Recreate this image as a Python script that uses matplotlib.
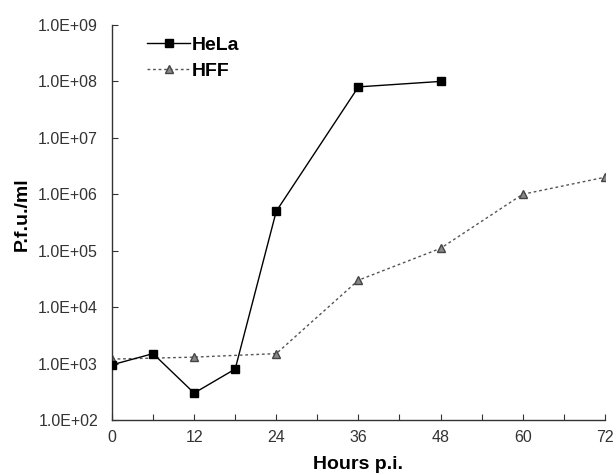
import math

import matplotlib
matplotlib.use("Agg")
import matplotlib.pyplot as plt
from matplotlib.ticker import FixedLocator, FuncFormatter, NullLocator

plt.rcParams["font.family"] = ["Liberation Sans", "DejaVu Sans"]

# Data
hela_hours = [0, 6, 12, 18, 24, 36, 48]
hela_pfu = [9.5e2, 1.5e3, 3.0e2, 8.0e2, 5.0e5, 8.0e7, 1.0e8]
hff_hours = [0, 12, 24, 36, 48, 60, 72]
hff_pfu = [1.2e3, 1.3e3, 1.5e3, 3.0e4, 1.1e5, 1.0e6, 2.0e6]

x_ticks = list(range(0, 73, 6))
x_labels = [str(h) if h % 12 == 0 else "" for h in x_ticks]
y_ticks = [10.0 ** k for k in range(2, 10)]

fig = plt.figure(figsize=(6.16, 4.75), dpi=100)
ax = fig.add_axes([0.1818, 0.1158, 0.800, 0.8316])

ax.plot(hela_hours, hela_pfu, color="black", lw=1.0, marker="s", ms=5.5,
        mfc="black", mec="black", label="HeLa", zorder=3)
ax.plot(hff_hours, hff_pfu, color="#555555", lw=1.0, ls=(0, (2, 2)), marker="^",
        ms=6, mfc="#888888", mec="#444444", label="HFF", zorder=2)

ax.set_yscale("log")
ax.set_ylim(1e2, 1e9)
ax.set_xlim(0, 72)
ax.yaxis.set_major_locator(FixedLocator(y_ticks))
ax.yaxis.set_minor_locator(NullLocator())
ax.yaxis.set_major_formatter(FuncFormatter(lambda v, p: f"1.0E+{int(round(math.log10(v))):02d}"))
ax.set_xticks(x_ticks)
ax.set_xticklabels(x_labels)

for side in ("top", "right"):
    ax.spines[side].set_visible(False)
for side in ("left", "bottom"):
    ax.spines[side].set_color("#333333")
    ax.spines[side].set_linewidth(1.0)
ax.tick_params(axis="both", direction="in", length=4, color="#333333",
               labelsize=11.5, labelcolor="#333333")
ax.tick_params(axis="x", pad=7)
ax.tick_params(axis="y", pad=10)

ax.set_xlabel("Hours p.i.", fontsize=14, fontweight="bold", labelpad=8)
ax.set_ylabel("P.f.u./ml", fontsize=14, fontweight="bold", labelpad=6)
ax.yaxis.set_label_coords(-0.165, 0.52)

ax.legend(loc="upper left", bbox_to_anchor=(0.036, 1.015), frameon=False,
          prop={"size": 14, "weight": "bold"}, handlelength=2.2,
          handletextpad=0.1, labelspacing=0.42)

fig.savefig("out.png", dpi=100)
